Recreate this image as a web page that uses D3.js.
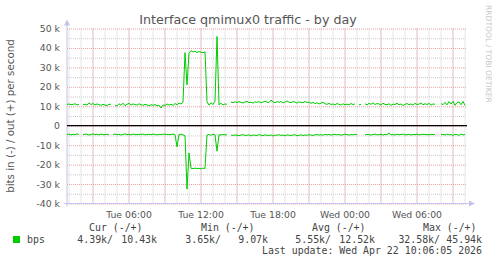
<!DOCTYPE html>
<html>
<head>
<meta charset="utf-8">
<script src="https://cdn.jsdelivr.net/npm/d3@7"></script>
<style>
  body { margin: 0; background: #fff; }
  svg { display: block; }
</style>
</head>
<body>
<svg id="chart" width="497" height="264"></svg>
<script>
// bits/s in thousands, one sample every 10 minutes, null = no data
const outK = [
  10.9, 11.2, 10.8, 11.0, 11.3, 10.7, 10.9, null, 10.8, 11.1, 10.6, 11.8, 10.9, 11.4, 10.7, 11.2, 10.8, 10.5, 11.0, 10.6,
  10.4, 10.9, 11.1, null, 10.6, 10.2, 11.3, 10.5, 11.6, 10.3, 11.0, 11.5, 10.7, 11.2, 10.9, 10.6, 11.3, 10.8, 10.5, 11.0,
  10.7, 10.3, 10.8, 10.5, 10.9, 10.2, 10.6, 9.1, 10.7, 10.4, 11.2, 10.6, 11.0, 10.5, 11.4, 10.8, 11.6, 11.2, 12.0, 37.6,
  21.0, 37.2, 38.6, 37.9, 38.4, 37.6, 38.2, 37.8, 37.5, 38.0, 12.4, 10.6, 11.8, 10.9, 12.6, 45.9, 10.8, 11.5, 10.7, 11.2,
  11.0, null, 12.1, 11.8, 12.3, 11.9, 12.4, 12.0, 11.7, 12.2, 12.5, 11.9, 12.1, 11.6, 12.3, 12.0, 12.4, 11.8, 12.2, 12.6,
  12.1, 11.9, 13.2, 12.3, 11.8, 12.4, 12.0, 12.5, 11.7, 12.2, 12.8, 12.1, 11.9, 12.4, 12.2, 11.6, 12.3, 12.0, 11.8, 12.5,
  11.9, 12.2, 11.5, 12.0, 11.4, 11.8, 11.2, 11.6, 12.1, 11.3, 11.0, 11.5, 10.9, 11.2, 10.7, 11.4, 11.0, 10.6, 11.3, 10.8,
  11.1, 10.7, 11.4, 10.9, 11.2, null, 10.8, 10.9, null, 11.3, 10.7, 11.5, 11.0, 11.8, 10.9, 11.4, 11.2, 10.6, 11.6, 11.0,
  10.8, 11.3, 10.5, 11.1, 10.9, 11.6, 10.7, 11.2, 10.4, 11.0, 11.4, 10.8, 11.2, 10.6, 11.5, 10.9, 11.1, 11.7, 10.8, 11.3,
  10.9, 11.5, 10.6, 11.2, 11.0, null, null, 11.4, 10.8, 12.0, 10.7, 12.4, 11.1, 12.6, 10.5, 11.9, 12.2, 10.8, 12.5, 10.43
];
const inK = [
  4.5, 4.3, 4.7, 4.4, 4.6, 4.2, 4.5, null, 4.6, 4.3, 4.4, 4.8, 4.5, 4.2, 4.6, 4.4, 4.7, 4.3, 4.5, 4.6,
  4.4, 4.7, null, 4.5, 4.3, 4.6, 4.4, 4.8, 4.5, 4.2, 4.6, 4.4, 4.7, 4.3, 4.5, 4.6, 4.4, 4.5, 4.3, 4.7,
  4.5, 4.4, 4.6, 4.3, 4.5, 4.7, 4.4, 4.6, 4.3, 4.5, 4.4, 4.6, 4.5, 4.3, 4.6, 10.9, 4.5, 4.4, 4.7, 5.2,
  32.6, 14.0, 21.9, 22.1, 21.8, 22.0, 21.9, 22.2, 21.8, 22.0, 4.8, 4.5, 4.9, 4.4, 4.7, 13.1, 4.6, 4.8, 4.5, 4.7,
  4.6, null, 4.8, 5.0, 4.7, 4.9, 5.1, 4.8, 4.6, 5.0, 4.9, 4.7, 5.2, 4.8, 4.9, 5.0, 4.6, 4.8, 5.1, 4.7,
  4.9, 5.0, 4.7, 5.3, 4.8, 4.9, 4.6, 5.0, 4.8, 5.1, 4.7, 4.9, 5.0, 4.8, 4.6, 5.2, 4.9, 4.7, 5.0, 4.8,
  4.9, 4.6, 4.8, 5.0, 4.7, 4.5, 4.8, 4.6, 4.9, 4.4, 4.7, 4.5, 4.8, 4.6, 4.4, 4.7, 4.5, 4.9, 4.6, 4.3,
  4.6, 4.8, 4.5, 4.7, 4.4, 4.6, null, 4.5, null, 4.7, 4.4, 4.6, 4.8, 4.5, 4.3, 4.7, 4.6, 4.4, 4.8, 4.5,
  4.6, 3.7, 4.7, 4.5, 4.8, 4.4, 4.6, 4.5, 4.3, 4.7, 4.6, 4.4, 4.8, 4.5, 4.6, 4.3, 4.7, 4.5, 4.4, 4.6,
  4.5, 4.7, 4.4, 4.6, 4.5, null, null, 4.6, 4.4, 4.8, 4.3, 4.7, 4.5, 5.0, 4.4, 4.6, 4.9, 4.3, 4.7, 4.39
];
const yTicks = [-40, -30, -20, -10, 0, 10, 20, 30, 40, 50];
const legendHeads = ["Cur (-/+)", "Min (-/+)", "Avg (-/+)", "Max (-/+)"];
const legendIn = ["4.39k/", "3.65k/", "5.55k/", "32.58k/"];
const legendOut = ["10.43k", "9.07k", "12.52k", "45.94k"];

const svg = d3.select("#chart");
const plotLeft = 67, plotRight = 467, plotTop = 28.5, plotBottom = 203.5;

const tStart = new Date(2026, 3, 21, 0, 52, 30);
const tEnd = new Date(2026, 3, 22, 10, 12, 30);
const step = 10 * 60 * 1000;
const times = outK.map((_, i) => new Date(tStart.getTime() + i * step));

const x = d3.scaleTime().domain([tStart, tEnd]).range([plotLeft, plotRight]);
const y = d3.scaleLinear().domain([-40, 50]).range([plotBottom, plotTop]);

// minor grid
svg.append("g").attr("transform", `translate(0,${plotBottom})`)
  .call(d3.axisBottom(x).ticks(d3.timeHour.every(1)).tickSize(-(plotBottom - plotTop)).tickFormat(""))
  .call(g => g.select(".domain").remove())
  .call(g => g.selectAll("line").attr("stroke", "#cccccc").attr("stroke-dasharray", "1,1"));
svg.append("g").attr("transform", `translate(${plotLeft},0)`)
  .call(d3.axisLeft(y).tickValues(d3.range(-35, 50, 10)).tickSize(-(plotRight - plotLeft)).tickFormat(""))
  .call(g => g.select(".domain").remove())
  .call(g => g.selectAll("line").attr("stroke", "#cccccc").attr("stroke-dasharray", "1,1"));

// major grid
svg.append("g").attr("transform", `translate(0,${plotBottom})`)
  .call(d3.axisBottom(x).ticks(d3.timeHour.every(3)).tickSize(-(plotBottom - plotTop)).tickFormat(""))
  .call(g => g.select(".domain").remove())
  .call(g => g.selectAll("line").attr("stroke", "#eaa0a0").attr("stroke-dasharray", "1,1"));
svg.append("g").attr("transform", `translate(${plotLeft},0)`)
  .call(d3.axisLeft(y).tickValues(yTicks).tickSize(-(plotRight - plotLeft)).tickFormat(""))
  .call(g => g.select(".domain").remove())
  .call(g => g.selectAll("line").attr("stroke", "#eaa0a0").attr("stroke-dasharray", "1,1"));

// tick labels
svg.append("g").attr("transform", `translate(0,${plotBottom})`)
  .call(d3.axisBottom(x).ticks(d3.timeHour.every(6)).tickSize(0).tickPadding(8)
    .tickFormat(d3.timeFormat("%a %H:%M")))
  .call(g => g.select(".domain").remove())
  .call(g => g.selectAll("text").attr("fill", "#555")
    .attr("font-family", "DejaVu Sans").attr("font-size", 9.3));
svg.append("g").attr("transform", `translate(${plotLeft},0)`)
  .call(d3.axisLeft(y).tickValues(yTicks).tickSize(0).tickPadding(7)
    .tickFormat(d => d === 0 ? "0" : `${d} k`))
  .call(g => g.select(".domain").remove())
  .call(g => g.selectAll("text").attr("fill", "#555")
    .attr("font-family", "DejaVu Sans").attr("font-size", 9.3));

// axis lines with arrows
const axisCol = "#c4c4ee";
svg.append("line").attr("x1", plotLeft).attr("x2", plotLeft).attr("y1", plotBottom + 3).attr("y2", plotTop - 4)
  .attr("stroke", axisCol);
svg.append("line").attr("x1", plotLeft - 3).attr("x2", plotRight + 3).attr("y1", plotBottom).attr("y2", plotBottom)
  .attr("stroke", axisCol);
svg.append("path").attr("d", `M${plotLeft - 3},${plotTop - 3}L${plotLeft + 3},${plotTop - 3}L${plotLeft},${plotTop - 9}Z`)
  .attr("fill", axisCol);
svg.append("path").attr("d", `M${plotRight + 2},${plotBottom - 3}L${plotRight + 2},${plotBottom + 3}L${plotRight + 8},${plotBottom}Z`)
  .attr("fill", axisCol);

// zero rule
svg.append("line").attr("x1", plotLeft).attr("x2", plotRight).attr("y1", y(0)).attr("y2", y(0))
  .attr("stroke", "#000").attr("stroke-width", 1.2);

// series
const lineOut = d3.line().defined(d => d[1] !== null)
  .x(d => x(d[0])).y(d => y(d[1]));
const lineIn = d3.line().defined(d => d[1] !== null)
  .x(d => x(d[0])).y(d => y(-d[1]));
svg.append("path").datum(times.map((t, i) => [t, outK[i]])).attr("d", lineOut)
  .attr("fill", "none").attr("stroke", "#00cc00").attr("stroke-width", 1);
svg.append("path").datum(times.map((t, i) => [t, inK[i]])).attr("d", lineIn)
  .attr("fill", "none").attr("stroke", "#00cc00").attr("stroke-width", 1);

// titles
svg.append("text").attr("x", 248).attr("y", 23.5).attr("text-anchor", "middle")
  .attr("font-family", "DejaVu Sans").attr("font-size", 12.7).attr("fill", "#555")
  .text("Interface qmimux0 traffic - by day");
svg.append("text").attr("transform", `translate(14,${(plotTop + plotBottom) / 2}) rotate(-90)`)
  .attr("text-anchor", "middle").attr("font-family", "DejaVu Sans").attr("font-size", 10.3)
  .attr("fill", "#555").text("bits in (-) / out (+) per second");
svg.append("text").attr("transform", "translate(486,5) rotate(90)")
  .attr("font-family", "DejaVu Sans").attr("font-size", 7.6).attr("fill", "#c8c8c8")
  .text("RRDTOOL / TOBI OETIKER");

// legend
const mono = "DejaVu Sans Mono";
const headX = [89, 201, 312, 423];
const inEnd = [113, 221, 331, 440];
const outEnd = [157, 268, 375, 482];
legendHeads.forEach((h, i) => {
  svg.append("text").attr("x", headX[i]).attr("y", 231).attr("font-family", mono)
    .attr("font-size", 9.9).attr("fill", "#444").text(h);
  svg.append("text").attr("x", inEnd[i]).attr("y", 242.5).attr("text-anchor", "end")
    .attr("font-family", mono).attr("font-size", 9.9).attr("fill", "#444").text(legendIn[i]);
  svg.append("text").attr("x", outEnd[i]).attr("y", 242.5).attr("text-anchor", "end")
    .attr("font-family", mono).attr("font-size", 9.9).attr("fill", "#444").text(legendOut[i]);
});
svg.append("rect").attr("x", 13).attr("y", 236).attr("width", 7).attr("height", 7).attr("fill", "#00cc00");
svg.append("text").attr("x", 27).attr("y", 242.5).attr("font-family", mono).attr("font-size", 9.9)
  .attr("fill", "#444").text("bps");
svg.append("text").attr("x", 482).attr("y", 254).attr("text-anchor", "end").attr("font-family", mono)
  .attr("font-size", 9.9).attr("fill", "#444").text("Last update: Wed Apr 22 10:06:05 2026");
</script>
</body>
</html>
